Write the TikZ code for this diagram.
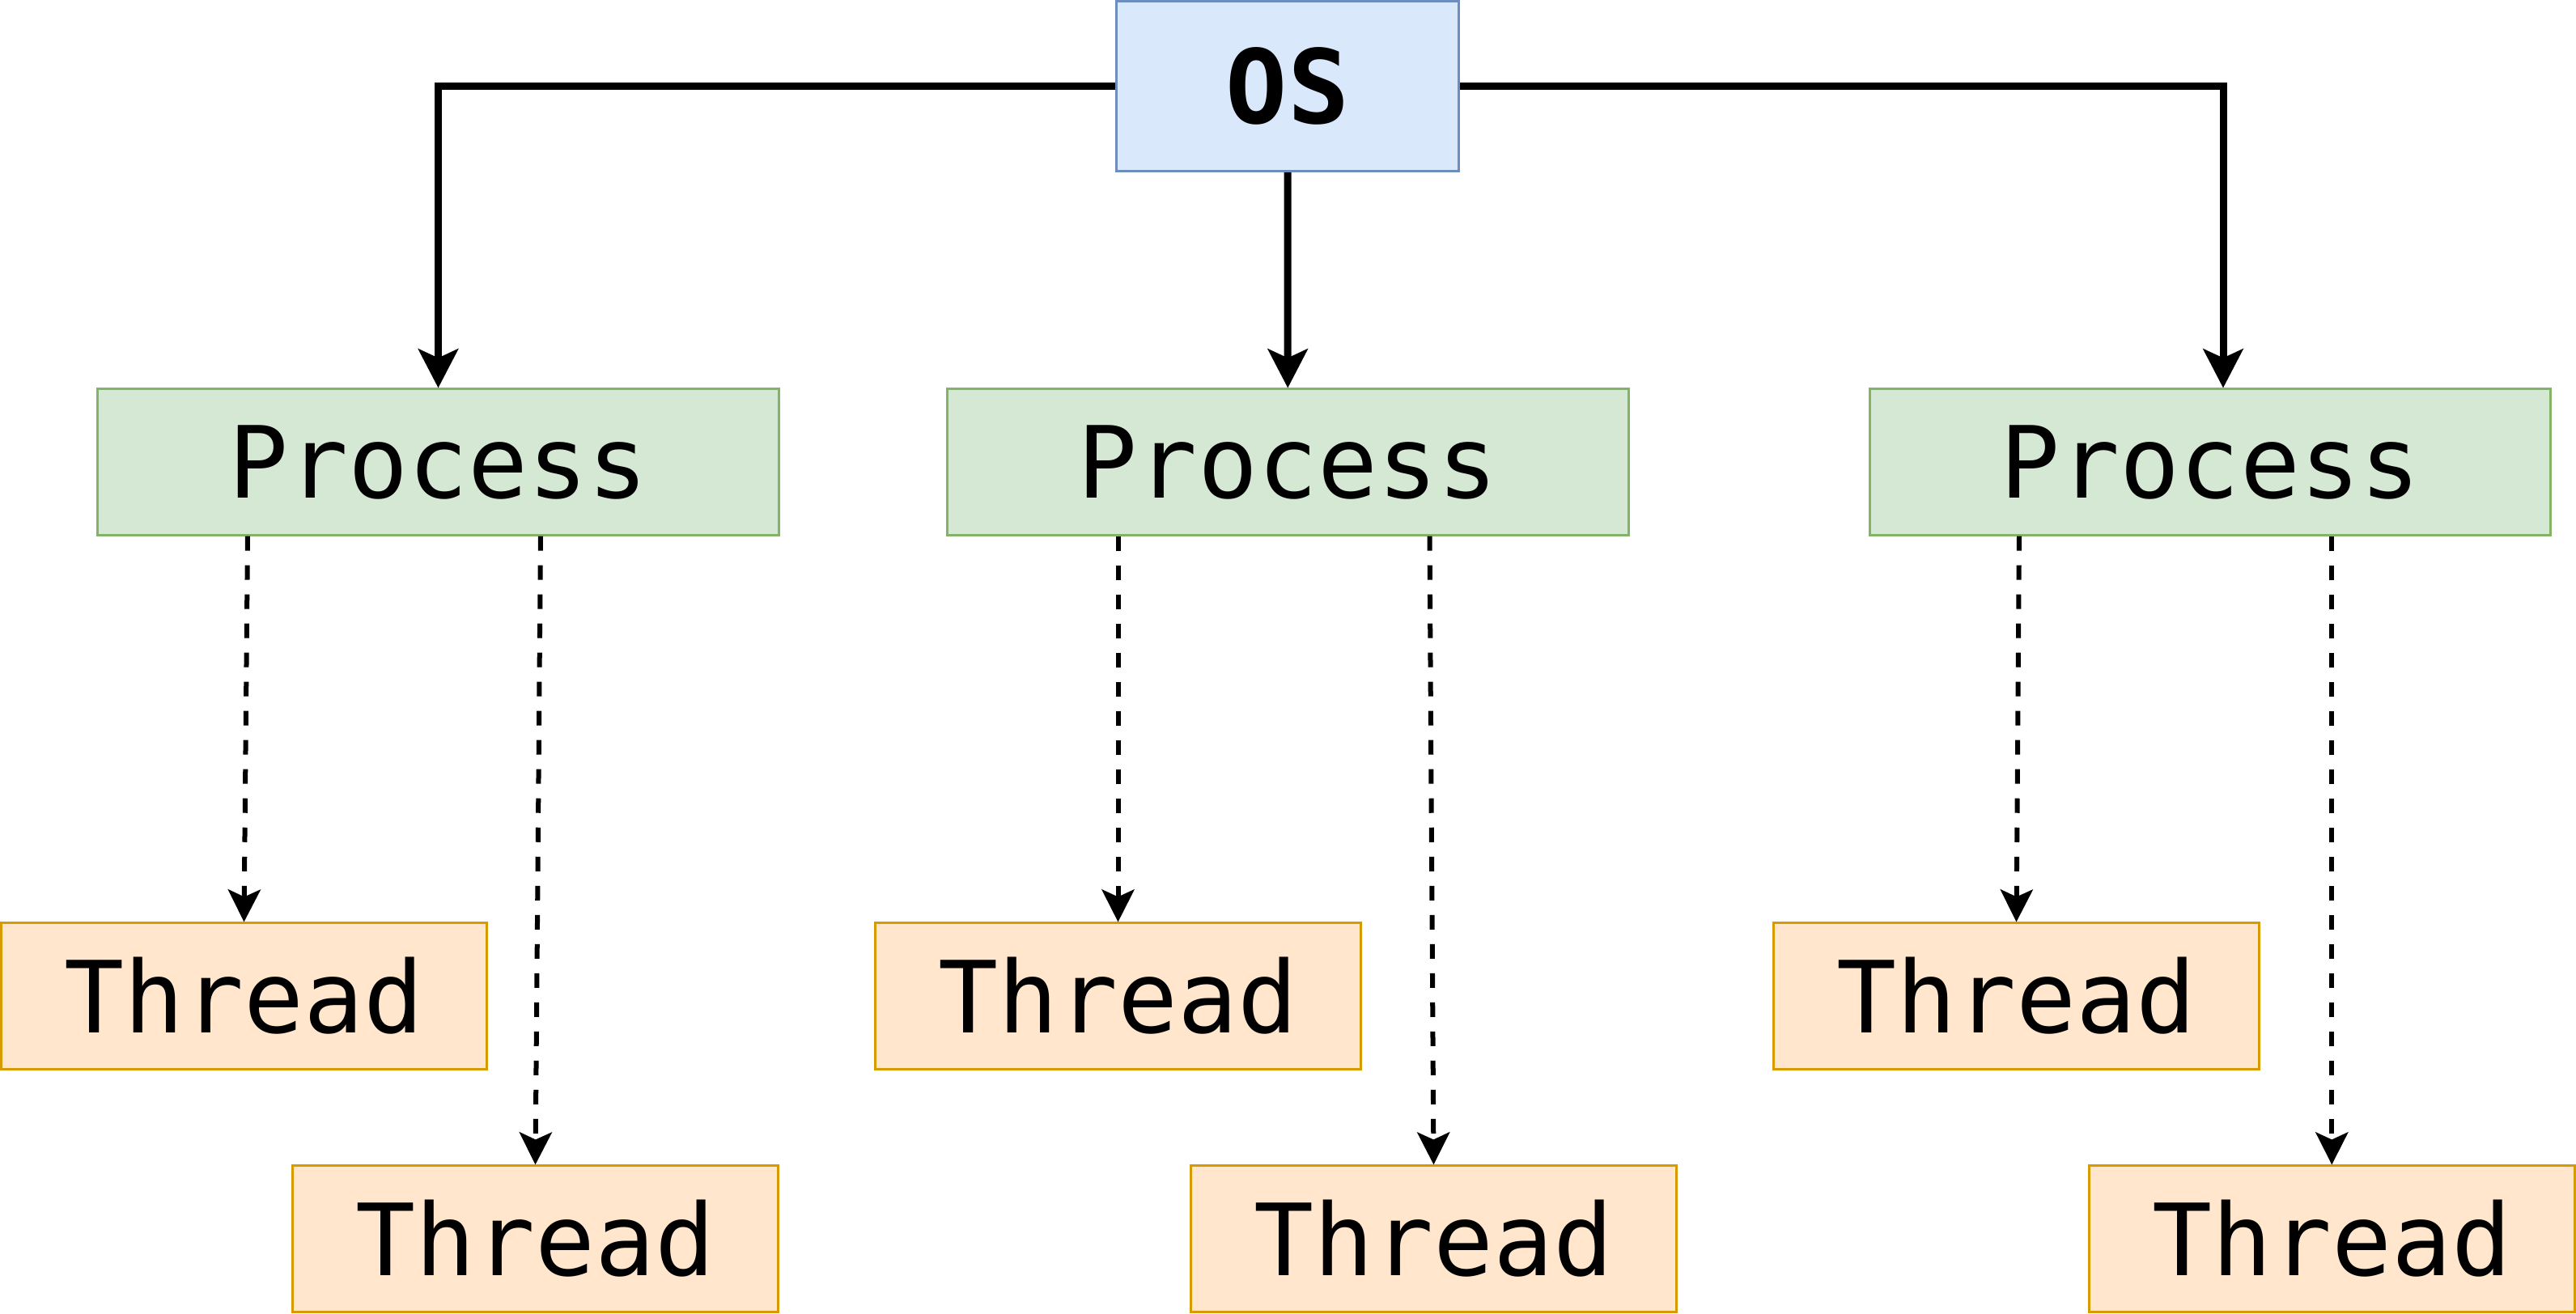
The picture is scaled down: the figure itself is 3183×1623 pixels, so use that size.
\documentclass[tikz,border=0pt]{standalone}
\usepackage{fontspec}
\usetikzlibrary{arrows.meta,calc}
\newfontfamily\labfont{DejaVu Sans Mono}
\definecolor{osfill}{HTML}{DAE8FC}
\definecolor{osdraw}{HTML}{6C8EBF}
\definecolor{prfill}{HTML}{D5E8D4}
\definecolor{prdraw}{HTML}{82B366}
\definecolor{thfill}{HTML}{FFE6CC}
\definecolor{thdraw}{HTML}{D79B00}
\tikzset{
  box/.style={rectangle, inner sep=0pt, line width=0.03cm, minimum height=1.80cm, anchor=center, font=\labfont\fontsize{35pt}{40pt}\selectfont},
  osbox/.style={box, fill=osfill, draw=osdraw, minimum width=4.22cm, minimum height=2.10cm, font=\labfont\bfseries\fontsize{36pt}{40pt}\selectfont},
  procbox/.style={box, fill=prfill, draw=prdraw, minimum width=8.41cm},
  thrbox/.style={box, fill=thfill, draw=thdraw, minimum width=6.00cm},
  solidarrow/.style={line width=0.09cm, -{Stealth[length=0.48cm, width=0.49cm, inset=0.11cm]}},
  dasharrow/.style={line width=0.06cm, dash pattern=on 0.18cm off 0.18cm, -{Stealth[length=0.40cm, width=0.40cm, inset=0.09cm]}}
}
\begin{document}
\begin{tikzpicture}[x=0.01cm, y=-0.01cm]
\useasboundingbox (0,0) rectangle (3183,1623);
\node[osbox] (os) at (1591,106.5) {OS};
\node[procbox] (p1) at (541.5,571) {Process};
\node[procbox] (p2) at (1591.25,571) {Process};
\node[procbox] (p3) at (2731,571) {Process};
\node[thrbox] (t1) at (301.5,1231) {Thread};
\node[thrbox] (t2) at (661.5,1531) {Thread};
\node[thrbox] (t3) at (1381.5,1231) {Thread};
\node[thrbox] (t4) at (1771.5,1531) {Thread};
\node[thrbox] (t5) at (2491.5,1231) {Thread};
\node[thrbox] (t6) at (2881.3,1531) {Thread};
\draw[solidarrow] (os.west) -| (p1.north);
\draw[solidarrow] (os.south) -- (p2.north);
\coordinate (p3in) at ($(p3.north)+(16,0)$);
\draw[solidarrow] (os.east) -| (p3in);
\draw[dasharrow] ($(t1.north |- p1.south)+(4.5,0)$) -- (t1.north);
\draw[dasharrow] ($(t2.north |- p1.south)+(6.5,0)$) -- (t2.north);
\draw[dasharrow] (t3.north |- p2.south) -- (t3.north);
\draw[dasharrow] ($(t4.north |- p2.south)+(-5,0)$) -- (t4.north);
\draw[dasharrow] ($(t5.north |- p3.south)+(3.5,0)$) -- (t5.north);
\draw[dasharrow] (t6.north |- p3.south) -- (t6.north);
\end{tikzpicture}
\end{document}
